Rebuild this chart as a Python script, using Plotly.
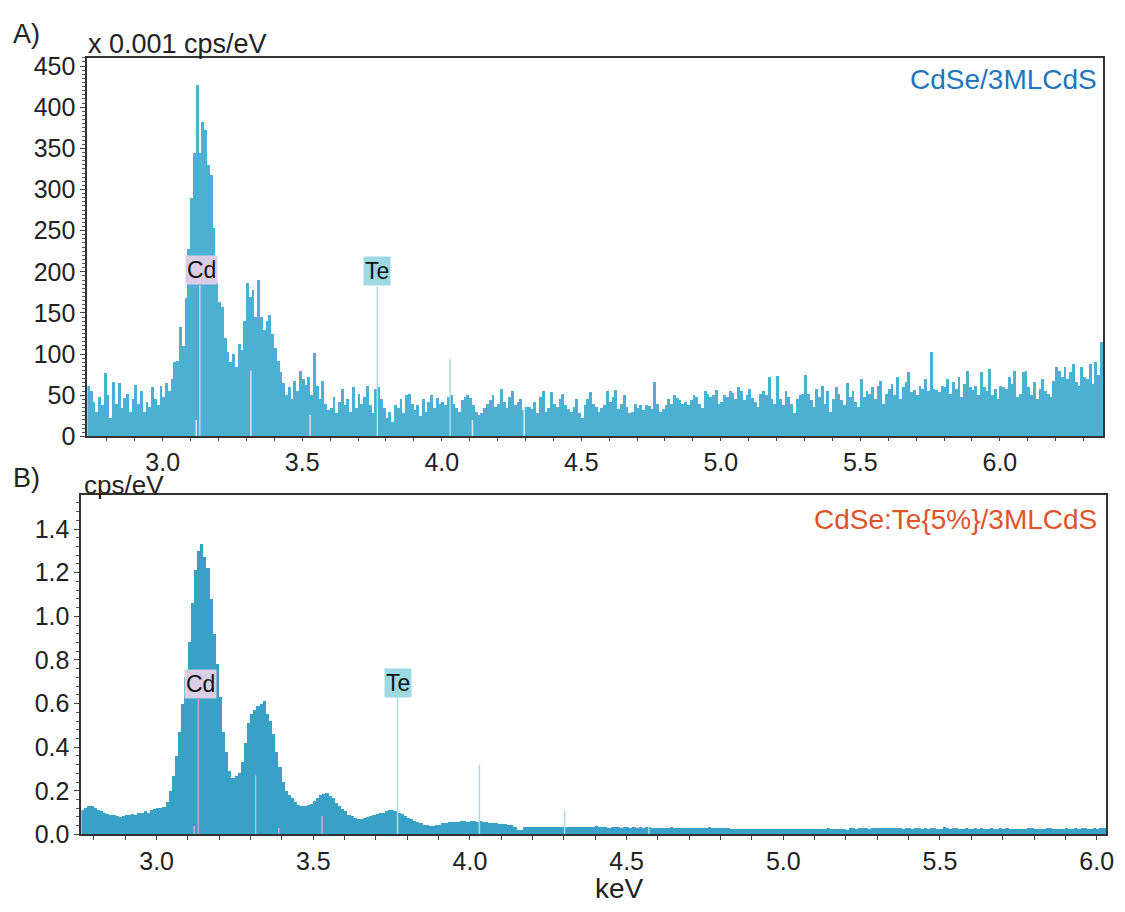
import plotly.graph_objects as go

# ---------------- data ----------------
STEP = 0.01  # keV per channel

# Panel A: CdSe/3MLCdS (x 0.001 cps/eV), channels from 2.73 keV
A_START = 2.73
a_counts = [
    62, 55, 42, 30, 48, 38, 77,
    50, 22, 66, 40, 65, 35, 47, 52, 30, 46,
    63, 40, 55, 30, 42, 36, 60, 45, 38, 62,
    48, 65, 55, 70, 90, 92, 133, 110, 168, 228,
    290, 345, 427, 345, 382, 372, 330, 318, 253, 188,
    164, 157, 120, 103, 90, 100, 85, 112, 105, 140,
    186, 170, 178, 145, 190, 145, 130, 140, 148, 125,
    108, 92, 78, 65, 50, 60, 45, 68, 55, 80,
    70, 63, 72, 50, 102, 62, 45, 68, 40, 32,
    35, 48, 28, 42, 58, 38, 45, 30, 60, 35,
    52, 40, 48, 62, 38, 28, 58, 60, 45, 35,
    22, 30, 18, 38, 35, 45, 28, 50, 52, 40,
    32, 38, 25, 45, 30, 42, 50, 35, 47, 40,
    42, 38, 48, 50, 40, 35, 30, 44, 48, 50,
    47, 38, 30, 26, 28, 35, 40, 44, 50, 36,
    40, 58, 42, 35, 48, 55, 38, 42, 45, 32,
    36, 36, 34, 42, 28, 48, 55, 30, 35, 54,
    40, 36, 46, 52, 38, 33, 30, 36, 45, 28,
    22, 38, 46, 54, 40, 36, 30, 35, 38, 55,
    42, 48, 56, 33, 40, 50, 36, 28, 30, 40,
    35, 38, 32, 38, 37, 34, 66, 40, 30, 34,
    38, 45, 40, 50, 47, 44, 40, 42, 38, 44,
    50, 48, 40, 35, 55, 52, 48, 50, 56, 40,
    42, 50, 48, 55, 53, 46, 60, 55, 44, 50,
    58, 47, 42, 36, 52, 55, 50, 72, 46, 40,
    74, 45, 38, 55, 48, 40, 28, 45, 50, 52,
    75, 52, 44, 36, 58, 48, 62, 40, 55, 30,
    46, 60, 52, 44, 38, 65, 48, 55, 42, 36,
    70, 48, 55, 52, 60, 46, 62, 68, 40, 52,
    58, 64, 50, 72, 45, 60, 66, 78, 54, 56,
    50, 62, 58, 70, 55, 103, 58, 56, 54, 62,
    60, 70, 52, 66, 58, 72, 48, 64, 80, 60,
    56, 62, 50, 78, 60, 55, 82, 50, 58, 46,
    62, 60, 58, 72, 64, 80, 48, 52, 78, 80,
    60, 50, 66, 45, 58, 70, 55, 52, 48, 68,
    85, 80, 72, 84, 70, 78, 88, 66, 62, 85,
    72, 70, 88, 64, 90, 75, 115,
]

# Panel B: CdSe:Te{5%}/3MLCdS (cps/eV), channels from 2.76 keV
B_START = 2.76
b_counts = [
    0.11, 0.12, 0.13, 0.13,
    0.12, 0.11, 0.105, 0.10, 0.095, 0.09, 0.09, 0.085, 0.08, 0.085,
    0.09, 0.09, 0.095, 0.09, 0.10, 0.10, 0.105, 0.10, 0.11, 0.115,
    0.12, 0.12, 0.125, 0.15, 0.20, 0.27, 0.36, 0.47, 0.60, 0.72,
    0.88, 1.06, 1.21, 1.30, 1.33, 1.27, 1.22, 1.08, 0.92, 0.78,
    0.63, 0.47, 0.38, 0.29, 0.26, 0.27, 0.28, 0.33, 0.42, 0.51,
    0.55, 0.57, 0.59, 0.60, 0.61, 0.55, 0.52, 0.46, 0.38, 0.31,
    0.24, 0.20, 0.18, 0.165, 0.15, 0.135, 0.13, 0.13, 0.135, 0.14,
    0.155, 0.165, 0.18, 0.185, 0.19, 0.175, 0.165, 0.145, 0.13, 0.115,
    0.105, 0.09, 0.085, 0.075, 0.07, 0.07, 0.075, 0.08, 0.085, 0.09,
    0.095, 0.10, 0.10, 0.105, 0.11, 0.11, 0.105, 0.10, 0.095, 0.085,
    0.075, 0.07, 0.06, 0.055, 0.05, 0.045, 0.045, 0.04, 0.04, 0.045,
    0.045, 0.05, 0.05, 0.055, 0.055, 0.058, 0.056, 0.06, 0.062, 0.058,
    0.06, 0.062, 0.058, 0.06, 0.055, 0.058, 0.052, 0.05, 0.052, 0.048,
    0.046, 0.047, 0.044, 0.042, 0.036, 0.022, 0.02, 0.032, 0.034, 0.035,
    0.034, 0.035, 0.033, 0.035, 0.034, 0.036, 0.034, 0.035, 0.033, 0.034,
    0.036, 0.034, 0.035, 0.033, 0.036, 0.034, 0.033, 0.035, 0.034, 0.036,
    0.038, 0.033, 0.032, 0.034, 0.031, 0.033, 0.034, 0.032, 0.03, 0.033,
    0.032, 0.031, 0.033, 0.03, 0.032, 0.031, 0.034, 0.036, 0.03, 0.031,
    0.03, 0.031, 0.029, 0.03, 0.032, 0.03, 0.029, 0.031, 0.03, 0.028,
    0.029, 0.03, 0.031, 0.028, 0.029, 0.03, 0.032, 0.029, 0.028, 0.03,
    0.03, 0.028, 0.031, 0.027, 0.025, 0.026, 0.024, 0.025, 0.026, 0.024,
    0.025, 0.026, 0.024, 0.027, 0.025, 0.026, 0.024, 0.025, 0.026, 0.023,
    0.024, 0.026, 0.025, 0.023, 0.024, 0.025, 0.026, 0.024, 0.023, 0.025,
    0.026, 0.024, 0.025, 0.027, 0.028, 0.025, 0.024, 0.026, 0.027, 0.025,
    0.022, 0.028, 0.029, 0.027, 0.028, 0.03, 0.028, 0.027, 0.029, 0.028,
    0.03, 0.029, 0.031, 0.03, 0.028, 0.029, 0.03, 0.028, 0.027, 0.029,
    0.028, 0.027, 0.029, 0.028, 0.026, 0.028, 0.027, 0.029, 0.028, 0.027,
    0.026, 0.032, 0.028, 0.027, 0.029, 0.028, 0.026, 0.027, 0.028, 0.026,
    0.027, 0.029, 0.026, 0.028, 0.027, 0.025, 0.03, 0.027, 0.026, 0.028,
    0.027, 0.028, 0.026, 0.025, 0.027, 0.026, 0.024, 0.027, 0.028, 0.029,
    0.026, 0.025, 0.027, 0.026, 0.028, 0.029, 0.026, 0.027, 0.025, 0.026,
    0.028, 0.027, 0.026, 0.029, 0.027, 0.028, 0.030, 0.027, 0.026, 0.028,
    0.027, 0.029, 0.031,
]

# X-ray line markers (energy keV, height, colour)
a_line_keV = [3.133, 3.316, 3.528, 3.769, 4.030, 4.295, 4.11, 3.12]
a_line_h = [184, 80, 26, 182, 94, 36, 20, 20]
a_line_col = ["#dcc4dc", "#e6dcec", "#e6dcec", "#a8dde6", "#a8dde6", "#d8eef3", "#d8eef3", "#e6dcec"]

b_line_keV = [3.133, 3.316, 3.528, 3.769, 4.030, 4.302, 4.571, 3.12, 3.39]
b_line_h = [0.62, 0.27, 0.085, 0.63, 0.32, 0.11, 0.035, 0.04, 0.03]
b_line_col = ["#b7aac6", "#c0b4cc", "#c0b4cc", "#a8dde6", "#a8dde6", "#a8dde6", "#a8dde6", "#c0b4cc", "#c0b4cc"]

# Element labels: (text, keV, y, bg colour)
a_labels = [("Cd", 3.139, 202, "#dccde6"), ("Te", 3.769, 201, "#9dd9e3")]
b_labels = [("Cd", 3.140, 0.69, "#dccde6"), ("Te", 3.771, 0.695, "#9dd9e3")]

A_COLOR = "#4bb0d2"
B_COLOR = "#3aa1c6"
FONT = "Liberation Sans, Arial, sans-serif"

# ---------------- figure ----------------
a_x = [round(A_START + STEP * (i + 0.5), 4) for i in range(len(a_counts))]
b_x = [round(B_START + STEP * (i + 0.5), 4) for i in range(len(b_counts))]

fig = go.Figure()
fig.add_trace(go.Bar(x=a_x, y=a_counts, width=STEP * 1.02, marker=dict(color=A_COLOR, line=dict(width=0)),
                     xaxis="x", yaxis="y", showlegend=False))
fig.add_trace(go.Bar(x=b_x, y=b_counts, width=STEP * 1.02, marker=dict(color=B_COLOR, line=dict(width=0)),
                     xaxis="x2", yaxis="y2", showlegend=False))

for k, h, c in zip(a_line_keV, a_line_h, a_line_col):
    fig.add_trace(go.Scatter(x=[k, k], y=[0, h], mode="lines", line=dict(color=c, width=1.5),
                             xaxis="x", yaxis="y", showlegend=False, hoverinfo="skip"))
for k, h, c in zip(b_line_keV, b_line_h, b_line_col):
    fig.add_trace(go.Scatter(x=[k, k], y=[0, h], mode="lines", line=dict(color=c, width=1.5),
                             xaxis="x2", yaxis="y2", showlegend=False, hoverinfo="skip"))

annotations = []
for txt, k, yv, bg in a_labels:
    annotations.append(dict(text=txt, x=k, y=yv, xref="x", yref="y", showarrow=False,
                            bgcolor=bg, borderpad=1, font=dict(size=23, color="#111", family=FONT)))
for txt, k, yv, bg in b_labels:
    annotations.append(dict(text=txt, x=k, y=yv, xref="x2", yref="y2", showarrow=False,
                            bgcolor=bg, borderpad=1, font=dict(size=23, color="#111", family=FONT)))

W, H = 1125, 912
def px(x):
    return x / W
def py(y):
    return (H - y) / H

annotations += [
    dict(text="A)", x=px(11), y=py(29), xref="paper", yref="paper", xanchor="left", yanchor="middle",
         showarrow=False, font=dict(size=27, color="#222", family=FONT)),
    dict(text="x 0.001 cps/eV", x=px(87), y=py(39), xref="paper", yref="paper", xanchor="left",
         yanchor="middle", showarrow=False, font=dict(size=27, color="#222", family=FONT)),
    dict(text="B)", x=px(11), y=py(483), xref="paper", yref="paper", xanchor="left", yanchor="middle",
         showarrow=False, font=dict(size=27, color="#222", family=FONT)),
    dict(text="cps/eV", x=px(83), y=py(490), xref="paper", yref="paper", xanchor="left",
         yanchor="middle", showarrow=False, font=dict(size=26, color="#222", family=FONT)),
    dict(text="keV", x=px(624), y=py(902), xref="paper", yref="paper", xanchor="center",
         yanchor="middle", showarrow=False, font=dict(size=28, color="#222", family=FONT)),
    dict(text="CdSe/3MLCdS", x=px(1107), y=py(75), xref="paper", yref="paper", xanchor="right",
         yanchor="middle", showarrow=False, font=dict(size=28, color="#1f76bd", family=FONT)),
    dict(text="CdSe:Te{5%}/3MLCdS", x=px(1107), y=py(525), xref="paper", yref="paper", xanchor="right",
         yanchor="middle", showarrow=False, font=dict(size=28, color="#e0542a", family=FONT)),
]

axis_common = dict(showline=True, linecolor="#333", linewidth=2, mirror=True, showgrid=False,
                   zeroline=False, ticks="outside", tickcolor="#444",
                   tickfont=dict(size=25, color="#222", family=FONT))

fig.update_layout(
    width=W, height=H, margin=dict(l=0, r=0, t=0, b=0),
    paper_bgcolor="white", plot_bgcolor="white", bargap=0, barmode="overlay",
    font=dict(family=FONT),
    xaxis=dict(domain=[px(88), px(1111)], anchor="y", range=[2.73, 6.37], dtick=0.5, tick0=3.0,
               tickformat=".1f", ticklen=3, minor=dict(dtick=0.1, tick0=3.0, ticks="outside", ticklen=3,
                                                       tickcolor="#444"), **axis_common),
    yaxis=dict(domain=[py(440), py(53)], anchor="x", range=[0, 460], dtick=50, ticklen=5,
               minor=dict(dtick=5, ticks="outside", ticklen=3, tickcolor="#555"), **axis_common),
    xaxis2=dict(domain=[px(82), px(1114)], anchor="y2", range=[2.76, 6.03], dtick=0.5, tick0=3.0,
                tickformat=".1f", ticklen=4, minor=dict(dtick=0.1, tick0=3.0, ticks="outside", ticklen=4,
                                                        tickcolor="#444"), **axis_common),
    yaxis2=dict(domain=[py(847), py(500)], anchor="x2", range=[0, 1.556], dtick=0.2, tickformat=".1f",
                ticklen=5, minor=dict(dtick=0.04, ticks="outside", ticklen=3, tickcolor="#555"),
                **axis_common),
    annotations=annotations,
)

fig.write_html("out.html")
